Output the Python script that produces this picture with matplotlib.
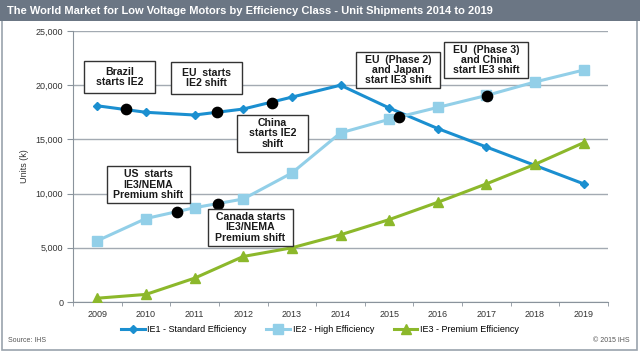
import matplotlib
matplotlib.use("Agg")
import matplotlib.pyplot as plt
from matplotlib.patches import Rectangle

years = ["2009", "2010", "2011", "2012", "2013", "2014", "2015", "2016", "2017", "2018", "2019"]
ie1 = [18100, 17500, 17250, 17800, 18900, 20000, 17900, 16000, 14300, 12600, 10900]
ie2 = [5650, 7700, 8700, 9500, 11900, 15600, 16850, 17950, 19050, 20300, 21400]
ie3 = [350, 700, 2200, 4200, 5000, 6200, 7600, 9200, 10900, 12700, 14700]

series_names = ["IE1 - Standard Efficiency", "IE2 - High Efficiency", "IE3 - Premium Efficiency"]
yticks = [0, 5000, 10000, 15000, 20000, 25000]

# annotation events: (x position in category units, y value, label)
event_x = [0.59, 2.46, 3.59, 1.64, 2.48, 6.21, 8.02]
event_y = [17780, 17550, 18400, 8330, 9000, 17100, 19030]
event_labels = ["Brazil\nstarts IE2", "EU  starts\nIE2 shift", "China\nstarts IE2\nshift",
                "US  starts\nIE3/NEMA\nPremium shift", "Canada starts\nIE3/NEMA\nPremium shift",
                "EU  (Phase 2)\nand Japan\nstart IE3 shift", "EU  (Phase 3)\nand China\nstart IE3 shift"]
# box geometry in figure pixels (x0, y0_top, x1, y1_bottom)
boxes = [(84, 61, 155, 93), (171, 62, 242, 94), (237, 115, 308, 152),
         (107, 166, 190, 203), (208, 209, 293, 246), (356, 52, 440, 88), (444, 42, 528, 78)]

W, H = 640, 355
fig = plt.figure(figsize=(W / 100, H / 100), dpi=100)
plt.rcParams['font.family'] = ['Liberation Sans', 'DejaVu Sans']

# outer border
fig.patches.append(Rectangle((2 / W, 1 - 350 / H), 635 / W, 349 / H, transform=fig.transFigure,
                             fill=False, edgecolor="#9aa3ad", linewidth=1.2))
# title bar
fig.patches.append(Rectangle((0, 1 - 21 / H), 1, 21 / H, transform=fig.transFigure,
                             facecolor="#6b7684", edgecolor="none"))
fig.text(7 / W, 1 - 11 / H, "The World Market for Low Voltage Motors by Efficiency Class - Unit Shipments 2014 to 2019",
         color="white", fontsize=8.0, fontweight="bold", va="center", ha="left")

ax = fig.add_axes([73 / W, 1 - 302 / H, (608 - 73) / W, (302 - 31) / H])
x = list(range(len(years)))

c1, c2, c3 = "#1b8fd0", "#92cfe8", "#8cb82b"
ax.plot(x, ie1, color=c1, lw=2.2, marker="D", ms=4.5, label=series_names[0], zorder=3)
ax.plot(x, ie2, color=c2, lw=2.2, marker="s", ms=6.5, label=series_names[1], zorder=3)
ax.plot(x, ie3, color=c3, lw=2.2, marker="^", ms=7, label=series_names[2], zorder=3)
ax.scatter(event_x, event_y, s=55, color="black", zorder=5)

ax.set_xlim(-0.5, len(years) - 0.5)
ax.set_ylim(0, 25000)
ax.set_yticks(yticks)
ax.set_yticklabels([f"{v:,}" for v in yticks], fontsize=6.5, color="#333333")
ax.set_xticks(x)
ax.set_xticklabels(years, fontsize=6.5, color="#333333")
ax.tick_params(axis="x", length=0, pad=6)
ax.set_xticks([i - 0.5 for i in range(len(years) + 1)], minor=True)
ax.tick_params(axis="x", which="minor", length=3, color="#8a939c")
ax.tick_params(axis="y", length=4, color="#8a939c", pad=3)
ax.grid(axis="y", color="#a3aab2", lw=1)
ax.set_axisbelow(True)
for s in ["top", "right"]:
    ax.spines[s].set_visible(False)
for s in ["left", "bottom"]:
    ax.spines[s].set_color("#8a939c")
ax.set_ylabel("Units (k)", fontsize=6.5, color="#333333", labelpad=5)

for (bx0, by0, bx1, by1), lab in zip(boxes, event_labels):
    fig.patches.append(Rectangle((bx0 / W, 1 - by1 / H), (bx1 - bx0) / W, (by1 - by0) / H,
                                 transform=fig.transFigure, facecolor="white",
                                 edgecolor="#333333", lw=1, zorder=10))
    fig.text((bx0 + bx1) / 2 / W, 1 - (by0 + by1) / 2 / H, lab, ha="center", va="center",
             fontsize=7.6, fontweight="bold", color="#1a1a1a", linespacing=1.05, zorder=11)

leg = fig.legend(loc="center", bbox_to_anchor=(0.5, 1 - 330 / H), ncol=3, frameon=False,
                 fontsize=6.5, handlelength=2.6, columnspacing=2.2, handletextpad=0.3)
fig.text(8 / W, 1 - 340 / H, "Source: IHS", fontsize=5, color="#555555", va="center")
fig.text(630 / W, 1 - 340 / H, "© 2015 IHS", fontsize=5, color="#555555", va="center", ha="right")

fig.savefig("out.png", dpi=100)
